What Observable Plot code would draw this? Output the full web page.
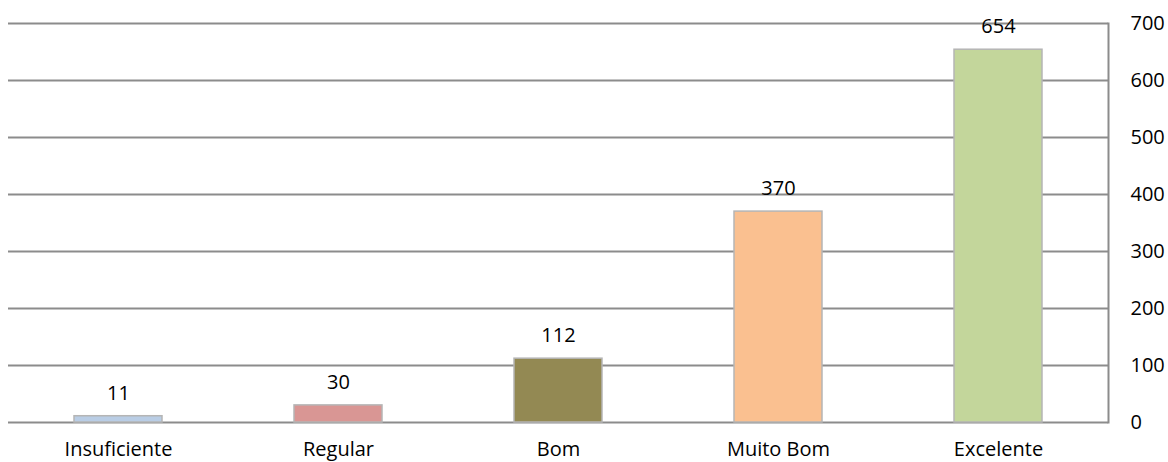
<!DOCTYPE html>
<html>
<head>
<meta charset="utf-8">
<script src="https://cdn.jsdelivr.net/npm/d3@7"></script>
<script src="https://cdn.jsdelivr.net/npm/@observablehq/plot@0.6"></script>
<style>
  html, body { margin: 0; padding: 0; background: #fff; }
  #chart { width: 1168px; height: 462px; }
</style>
</head>
<body>
<div id="chart"></div>
<script>
const categories = ["Insuficiente", "Regular", "Bom", "Muito Bom", "Excelente"];
const values = [11, 30, 112, 370, 654];
const colors = ["#b9cde5", "#d99694", "#938953", "#fac090", "#c3d69b"];
const yTicks = [0, 100, 200, 300, 400, 500, 600, 700];

const data = categories.map((c, i) => ({category: c, value: values[i], color: colors[i]}));

const chart = Plot.plot({
  width: 1168,
  height: 462,
  marginLeft: 8,
  marginRight: 60,
  marginTop: 23,
  marginBottom: 40,
  style: {fontFamily: "'Open Sans', sans-serif", fontSize: "20px", color: "#000", background: "#fff"},
  x: {domain: categories, paddingInner: 0.6, paddingOuter: 0.3, label: null},
  y: {domain: [0, 700], label: null},
  marks: [
    Plot.ruleY(yTicks, {stroke: "#8c8c8c", strokeWidth: 2}),
    Plot.frame({anchor: "right", stroke: "#8c8c8c", strokeWidth: 2}),
    Plot.barY(data, {x: "category", y: "value", fill: "color", stroke: "#b5b5b5", strokeWidth: 1.5}),
    Plot.text(data, {x: "category", y: "value", text: d => String(d.value), dy: -23, fill: "#000", fontSize: 20}),
    Plot.axisX({tickSize: 0, tickPadding: 19, fontSize: 20, fill: "#000"}),
    Plot.axisY({anchor: "right", ticks: yTicks, tickSize: 0, tickPadding: 22, fontSize: 20, fill: "#000"})
  ]
});
document.getElementById("chart").appendChild(chart);
</script>
</body>
</html>
